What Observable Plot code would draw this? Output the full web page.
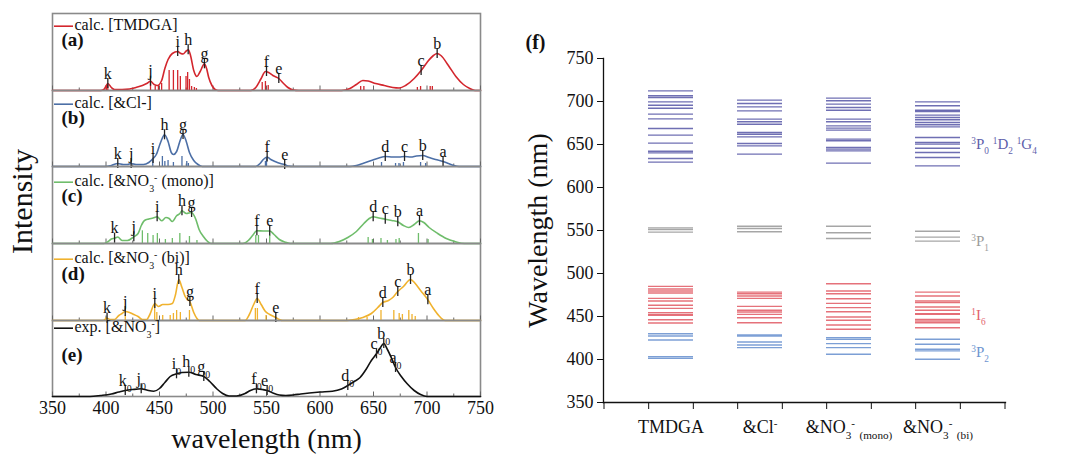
<!DOCTYPE html>
<html><head><meta charset="utf-8">
<script src="https://cdn.jsdelivr.net/npm/d3@7"></script>
<script src="https://cdn.jsdelivr.net/npm/@observablehq/plot@0.6"></script>
<style>
body{margin:0;background:#fff;}
#chart{position:relative;width:1077px;height:454px;overflow:hidden;background:#fff;font-family:"Liberation Serif",serif;}
#chart > svg{position:absolute;}
#chart text{font-family:"Liberation Serif",serif;}
</style></head><body><div id="chart"></div>
<script>
// ---------------- DATA: left spectra (wavelength nm, intensity a.u.) ----------------
const wavelengthTicks = [350, 400, 450, 500, 550, 600, 650, 700, 750];
const wavelengthMinorTicks = [375, 425, 475, 525, 575, 625, 675, 725];
const panelIds = ["a", "b", "c", "d", "e"];
const panelLegends = ["calc. [TMDGA]", "calc. [&Cl-]", "calc. [&NO_{3}^{-} (mono)]", "calc. [&NO_{3}^{-} (bi)]", "exp. [&NO_{3}^{-}]"];
const panelColors = ["#d3262d", "#4c6fa6", "#6fbd6b", "#f0b22e", "#111111"];

const curveA = [[350,0],[395,0],[398,1],[401.7,7],[405,3],[408,1],[415,1],[422,1.5],[428,3],[434,5],[438,7],[441.6,9.3],[445,6],[448,5],[452,10],[455,22],[458,31],[462,37],[467,39],[470,37],[472,36.5],[475,39.5],[477,40.7],[479,35],[482,20],[485,14],[488,19],[492,26.7],[494,22],[496,13],[499,5],[502,1],[505,0],[535,0],[540,3],[545,12],[549,19],[552,18],[556,15],[561.5,12],[566,7],[570,3],[575,0.5],[580,0],[620,0],[628,2],[634,6],[640,10],[645,9.5],[652,7],[660,5],[668,3],[674,2.5],[680,5],[688,12],[694.5,20],[700,28],[706,35],[709.5,37],[713,35],[720,25],[727,14],[734,6],[740,2],[745,0],[750,0]];
const sticksA = [[400.5,5],[401.7,5],[441.6,8],[446,4],[449,5],[452,7],[459,20],[463,20],[467,20],[469.5,14],[474.8,14],[476.3,18],[478,11],[480,4],[482.6,3],[484.5,2],[546,8],[549,9],[551.6,5],[638,4],[641,4],[691,3],[694,4],[703,4],[705,4]];
const peaksA = [["k",401.7,7],["j",441.6,9.3],["i",467,39],["h",476.8,40.7],["g",492,26.7],["f",550,19],["e",561.5,12],["c",694.5,20],["b",709.5,37]];

const curveB = [[350,0],[400,0],[405,1],[411,3],[416,2],[420,2],[423.5,3],[428,2],[435,2],[440,4],[444,8],[447,12],[451,24],[454.7,31.7],[458,25],[461,14],[463,12],[466,15],[469,25],[472,32],[475,25],[478,14],[482,6],[486,2],[490,0],[540,0],[544,3],[547,7],[550.6,9.5],[554,7],[558,5],[563,3],[567,2],[570,0.5],[575,0],[628,0],[634,1],[640,3],[648,6],[655,8.5],[661,10],[668,9.5],[674,9.5],[679,10],[685,9.5],[690,10.5],[696,11],[702,9],[708,7],[715,5],[720,3],[725,1],[730,0],[750,0]];
const sticksB = [[443.7,8],[452.7,10],[455,5],[458,6],[463,4],[471,10],[475.5,5],[477,3],[549,5],[550,8],[657.5,4],[670.6,3],[673.8,3],[678,4],[694,4],[698.7,3]];
const peaksB = [["k",411,3],["j",423.5,3],["i",444,8],["h",454.7,31.7],["g",472,32],["f",550.6,9.5],["e",567,2],["d",661,10],["c",679,10],["b",696,11],["a",715,5]];

const curveC = [[350,0],[398,0],[402,2],[405,4.5],[408,5.3],[411,6.5],[415,3],[420,3],[426,6.7],[430,10],[433,18],[436,23],[440,24.5],[444,25.5],[447.8,26.7],[452,22.7],[456,26],[459,25],[462,22],[466,27.7],[469,30],[471,32.7],[475,30],[480,31],[484,24],[487,14],[491,7],[495,2],[498,0],[528,0],[533,3],[537,8],[541,12.7],[547,12.5],[553,12.5],[557,9],[562,4],[567,1.5],[572,0],[610,0],[618,2],[626,6],[634,12],[641,20],[646,25],[649.7,26.7],[655,25.5],[661,24.3],[667,23],[672.7,21.7],[678,18],[683,16],[688,19],[693,22.7],[697,21],[702,16],[710,10],[718,5],[726,2],[735,0],[750,0]];
const sticksC = [[434,12.7],[439,10],[444,8],[448,10],[455.5,4],[462,5],[469,10],[478,7],[485,3],[540,8],[542.5,8],[553,8],[645,6],[649,4],[657,5],[663,3],[671,4],[674,5],[692,10],[701,4]];
const peaksC = [["k",408,5.3],["j",426,6.7],["i",447.8,26.7],["h",471,32.7],["g",480,31],["f",541,12.7],["e",553,12.5],["d",649.7,26.7],["c",661,24.3],["b",672.7,21.7],["a",693,22.7]];

const curveD = [[350,0],[397,0],[399,1],[401,2.3],[404,1],[408,1],[412,5],[415,7],[418,9],[422,8],[426,6],[430,4],[434,1],[438,1],[441,6],[445.6,17],[449,14],[453,16],[458,16],[462,17],[465,26],[468,41],[471,33],[474,24],[478.4,19],[482,8],[485,2],[487,0],[530,0],[534,6],[538,16],[541.3,22],[545,16],[549,9],[553,6],[558.7,3],[562,1],[565,0],[625,0],[632,1],[640,3],[648,7],[654,13],[658.7,18],[664,20],[668,23],[672.7,29],[678,34],[684.6,41],[689,37],[694,30],[700.8,20.7],[706,12],[711,5],[717,0],[750,0]];
const sticksD = [[400,3],[418,5],[445.5,15],[447.5,8],[453,5],[460,5],[463,7],[466,10],[469.5,8],[478,10],[539.6,12],[541.5,12],[549.6,5],[636,3],[644,3],[657,10],[669,10],[674,7],[677,6],[683,10],[686,6],[689,4]];
const peaksD = [["k",401,2.3],["j",418,9],["i",445.6,17],["h",468,41],["g",478.4,19],["f",541.3,22],["e",558.7,3],["d",658.7,18],["c",672.7,29],["b",684.6,41],["a",700.8,20.7]];

const curveE = [[350,0],[385,0],[395,1],[405,2.5],[412,4.5],[418,6],[425,7],[432.9,7.7],[438,6.5],[444.6,5.3],[450,8],[455,14],[460,20],[465.9,22.7],[471,24],[477.4,24.3],[484,22],[491.4,20],[497,15],[503.7,7.5],[509,3],[515,0.5],[522,0.5],[530,3],[535,6],[540.6,7.7],[546,7],[550.6,6],[556,3.5],[562,1.5],[568,1],[575,1.5],[582,2.5],[590,3.5],[600,4.5],[611.6,5.3],[620,7.5],[626,11],[632,15],[637.5,19],[643,27],[648,36],[652.8,42.7],[656,48],[659.6,53],[663,47],[667,38],[670.6,29],[676,20],[681.5,12.7],[688,6],[694,2],[700,0],[750,0]];
const sticksE = [];
const peaksE = [["k_{0}",418,6],["j_{0}",432.9,7.7],["i_{0}",465.9,22.7],["h_{0}",477.4,24.3],["g_{0}",491.4,20],["f_{0}",540.6,7.7],["e_{0}",550.6,6],["d_{0}",626,11],["c_{0}",652.8,42.7],["b_{0}",659.6,53],["a_{0}",670.6,29]];

// ---------------- DATA: right panel energy levels (nm) ----------------
const levelCats = ["TMDGA", "&Cl-", "&NO3- (mono)", "&NO3- (bi)"];
const levelCatLabels = ["TMDGA", "&Cl^{-}", "&NO_{3}^{-} _{(mono)}", "&NO_{3}^{-} _{(bi)}"];
const levelAxisTicks = [350, 400, 450, 500, 550, 600, 650, 700, 750];
const stateNames = ["^{3}P_{0} ^{1}D_{2} ^{1}G_{4}", "^{3}P_{1}", "^{1}I_{6}", "^{3}P_{2}"];
const stateLabelWavelengths = [650, 538, 451, 409];
const stateColors = ["#5f5fab", "#9c9c9c", "#e2626c", "#6e95d0"];
const levelsP0D2G4 = [
  [712.4,706.6,704.7,699.6,695.7,692.2,685.3,679.8,668.6,660.9,651.6,642.2,640.3,633.7,629.5],
  [701.6,697.7,693.8,689.1,679.5,676.4,673.6,664,662,658.9,651.2,648.4,638.8],
  [703.9,700.8,696.9,693,689.9,679.5,676.4,671.7,669,666.7,656.2,654.3,646.5,644.6,642.6,628.3],
  [699.6,695,689.9,688.4,684.1,681.4,678.7,675.6,672.9,670.5,658.1,652.3,650.4,645.7,640.7,634.9,625.2]
];
const levelsP1 = [
  [553.1,551.2,548.1],
  [555,552.3,548.5],
  [555,547.3,540.7],
  [549.2,542.3,537.6]
];
const levelsI6 = [
  [485,482,479.6,477.3,471.1,468,463,459.5,454.5,452.5,451.3,446.3,442.5],
  [478.4,476.5,473.8,471.1,461.8,457.2,455.2,452.5,448.6,442.8],
  [488.1,479.6,476.5,470.7,465.3,460.3,455.6,449.4,445.6,440.1,435.1],
  [478.4,473.8,468,466.1,461,457.2,453.3,452.5,446.7,444.8,442.8,437]
];
const levelsP2 = [
  [430,427.4,422.7,403.4,401.4],
  [428.5,427.4,420.4,416.9,413.8],
  [425.4,423.5,418.5,413.8,406.1],
  [423.5,417.7,411.9,410,400.3]
];

// ---------------- helpers ----------------
const FONT = '"Liberation Serif", serif';
const TXT = {fontFamily: FONT, fill: "#111"};
// legend swatch: a short horizontal stroke drawn as a dot symbol
const legendSwatch = {draw(ctx) { ctx.moveTo(-9.5, 0); ctx.lineTo(9.5, 0); }};
function richify(root) {
  root.querySelectorAll("text").forEach(t => {
    const s = t.textContent;
    if (!/[_^]\{/.test(s)) return;
    while (t.firstChild) t.removeChild(t.firstChild);
    const re = /([_^])\{([^}]*)\}/g;
    let last = 0, m;
    const add = (str, kind) => {
      const ts = document.createElementNS("http://www.w3.org/2000/svg", "tspan");
      ts.textContent = str;
      if (kind) {
        ts.setAttribute("baseline-shift", kind === "_" ? "sub" : "super");
        ts.setAttribute("font-size", "62%");
      }
      t.appendChild(ts);
    };
    while ((m = re.exec(s))) {
      if (m.index > last) add(s.slice(last, m.index));
      add(m[2], m[1]);
      last = re.lastIndex;
    }
    if (last < s.length) add(s.slice(last));
  });
}
const chart = document.getElementById("chart");
function place(svg, left, top) {
  svg.style.left = left + "px";
  svg.style.top = top + "px";
  svg.setAttribute("font-family", FONT);
  richify(svg);
  chart.appendChild(svg);
}

// ---------------- left panels ----------------
const curves = [curveA, curveB, curveC, curveD, curveE];
const sticks = [sticksA, sticksB, sticksC, sticksD, sticksE];
const peaks = [peaksA, peaksB, peaksC, peaksD, peaksE];
const panelTops = [13, 90, 166, 243, 320];
const panelHeights = [77, 76, 77, 77, 76];
const legendDy = [16, 17, 19, 19, 11];
const letterDy = [32, 33, 35, 36, 40];

panelIds.forEach((id, i) => {
  const H = panelHeights[i];
  const last = i === panelIds.length - 1;
  const color = panelColors[i];
  const curve = curves[i].map(([w, v]) => ({w, v}));
  const stk = sticks[i].map(([w, v]) => ({w, v}));
  const pk = peaks[i].map(([name, w, v]) => ({name, w, v}));
  const marks = [
    Plot.frame({stroke: "#8a8a8a", strokeWidth: 1.6}),
    Plot.tickX(wavelengthTicks, {x: d => d, insetTop: H - 4.5, stroke: "#666"}),
    Plot.tickX(wavelengthMinorTicks, {x: d => d, insetTop: H - 2.5, stroke: "#666"}),
    Plot.ruleX(stk, {x: "w", y1: 0, y2: "v", stroke: color, strokeWidth: 1.3}),
    Plot.line(curve, {x: "w", y: "v", stroke: color, strokeWidth: 1.6, curve: "monotone-x"}),
    Plot.ruleX(pk, {x: "w", y1: d => d.v - 5, y2: d => d.v + 5, stroke: "#222", strokeWidth: 1.3}),
    Plot.text(pk, {...TXT, x: "w", y: "v", text: "name", dy: -5, lineAnchor: "bottom", fontSize: 16}),
    Plot.dot([panelLegends[i]], {frameAnchor: "top-left", dx: 11, dy: legendDy[i] - 3.3, symbol: legendSwatch, stroke: color, fill: "none", strokeWidth: 1.6}),
    Plot.text([panelLegends[i]], {...TXT, text: d => d, frameAnchor: "top-left", dx: 22, dy: legendDy[i], lineAnchor: "bottom", textAnchor: "start", fontSize: 16}),
    Plot.text(["(" + id + ")"], {...TXT, text: d => d, frameAnchor: "top-left", dx: 9, dy: letterDy[i], lineAnchor: "bottom", textAnchor: "start", fontSize: 19, fontWeight: "bold"})
  ];
  if (i === 2) {
    marks.push(Plot.text(["Intensity"], {...TXT, text: d => d, frameAnchor: "left", dx: -21, dy: -3.5, rotate: -90, lineAnchor: "bottom", textAnchor: "middle", fontSize: 30}));
  }
  if (last) {
    marks.push(Plot.axisX({...TXT, ticks: wavelengthTicks, tickSize: 0, tickPadding: 5, fontSize: 18, label: null}));
    marks.push(Plot.text(["wavelength (nm)"], {...TXT, text: d => d, frameAnchor: "bottom", dy: 51, lineAnchor: "bottom", textAnchor: "middle", fontSize: 28}));
  }
  const svg = Plot.plot({
    width: 500,
    height: H + (last ? 58 : 0),
    marginLeft: 52, marginRight: 20, marginTop: 0, marginBottom: last ? 58 : 0,
    style: {background: "none", overflow: "visible", color: "#111"},
    x: {domain: [350, 750], ...(last ? {} : {axis: null})},
    y: {domain: [0, H], axis: null},
    marks
  });
  place(svg, 0, panelTops[i]);
});

// ---------------- right panel ----------------
const stateLevels = [levelsP0D2G4, levelsP1, levelsI6, levelsP2];
const levelRows = [];
stateLevels.forEach((byCat, si) => byCat.forEach((ws, ci) => ws.forEach(w => levelRows.push({cat: levelCats[ci], w, color: stateColors[si]}))));
const stateRows = stateNames.map((name, si) => ({name, w: stateLabelWavelengths[si], color: stateColors[si]}));

const RW = 557, RH = 454, RML = 83, RMR = 72, RMT = 58, RMB = 52;
const step = (RW - RML - RMR) / (levelCats.length - 0.5 + 1);
const bw = step * 0.5;
const plotH = RH - RMT - RMB;

const right = Plot.plot({
  width: RW, height: RH,
  marginLeft: RML, marginRight: RMR, marginTop: RMT, marginBottom: RMB,
  style: {background: "none", overflow: "visible", color: "#111"},
  x: {type: "band", domain: levelCats, paddingInner: 0.5, paddingOuter: 0.5},
  y: {domain: [350, 750]},
  color: {type: "identity"},
  marks: [
    Plot.tickY(levelRows, {x: "cat", y: "w", stroke: "color", strokeWidth: 1.4, strokeOpacity: 0.9}),
    Plot.frame({anchor: "left", stroke: "#111", strokeWidth: 1.3}),
    Plot.frame({anchor: "bottom", stroke: "#111", strokeWidth: 1.3}),
    Plot.axisY({...TXT, ticks: levelAxisTicks, tickSize: 6, tickPadding: 4, fontSize: 18, label: null}),
    Plot.tickX(levelCats, {x: d => d, dx: -bw / 2, insetTop: plotH, insetBottom: -7, stroke: "#111"}),
    Plot.tickX(levelCats, {x: d => d, dx: bw / 2, insetTop: plotH, insetBottom: -7, stroke: "#111"}),
    Plot.tickX([levelCats[0]], {x: d => d, dx: -1.5 * bw, insetTop: plotH, insetBottom: -7, stroke: "#111"}),
    Plot.tickX([levelCats[levelCats.length - 1]], {x: d => d, dx: 1.5 * bw, insetTop: plotH, insetBottom: -7, stroke: "#111"}),
    Plot.axisX({...TXT, tickSize: 0, tickPadding: 18, fontSize: 18, label: null, tickFormat: d => levelCatLabels[levelCats.indexOf(d)]}),
    Plot.text(stateRows, {fontFamily: FONT, x: () => levelCats[levelCats.length - 1], y: "w", text: "name", fill: "color", dx: bw / 2 + 11, textAnchor: "start", fontSize: 15}),
    Plot.text(["Wavelength (nm)"], {...TXT, text: d => d, frameAnchor: "left", dx: -57, rotate: -90, lineAnchor: "bottom", textAnchor: "middle", fontSize: 28}),
    Plot.text(["(f)"], {...TXT, text: d => d, frameAnchor: "top-left", dx: -78, dy: -10, lineAnchor: "bottom", textAnchor: "start", fontSize: 20, fontWeight: "bold"})
  ]
});
place(right, 520, 0);
</script></body></html>
